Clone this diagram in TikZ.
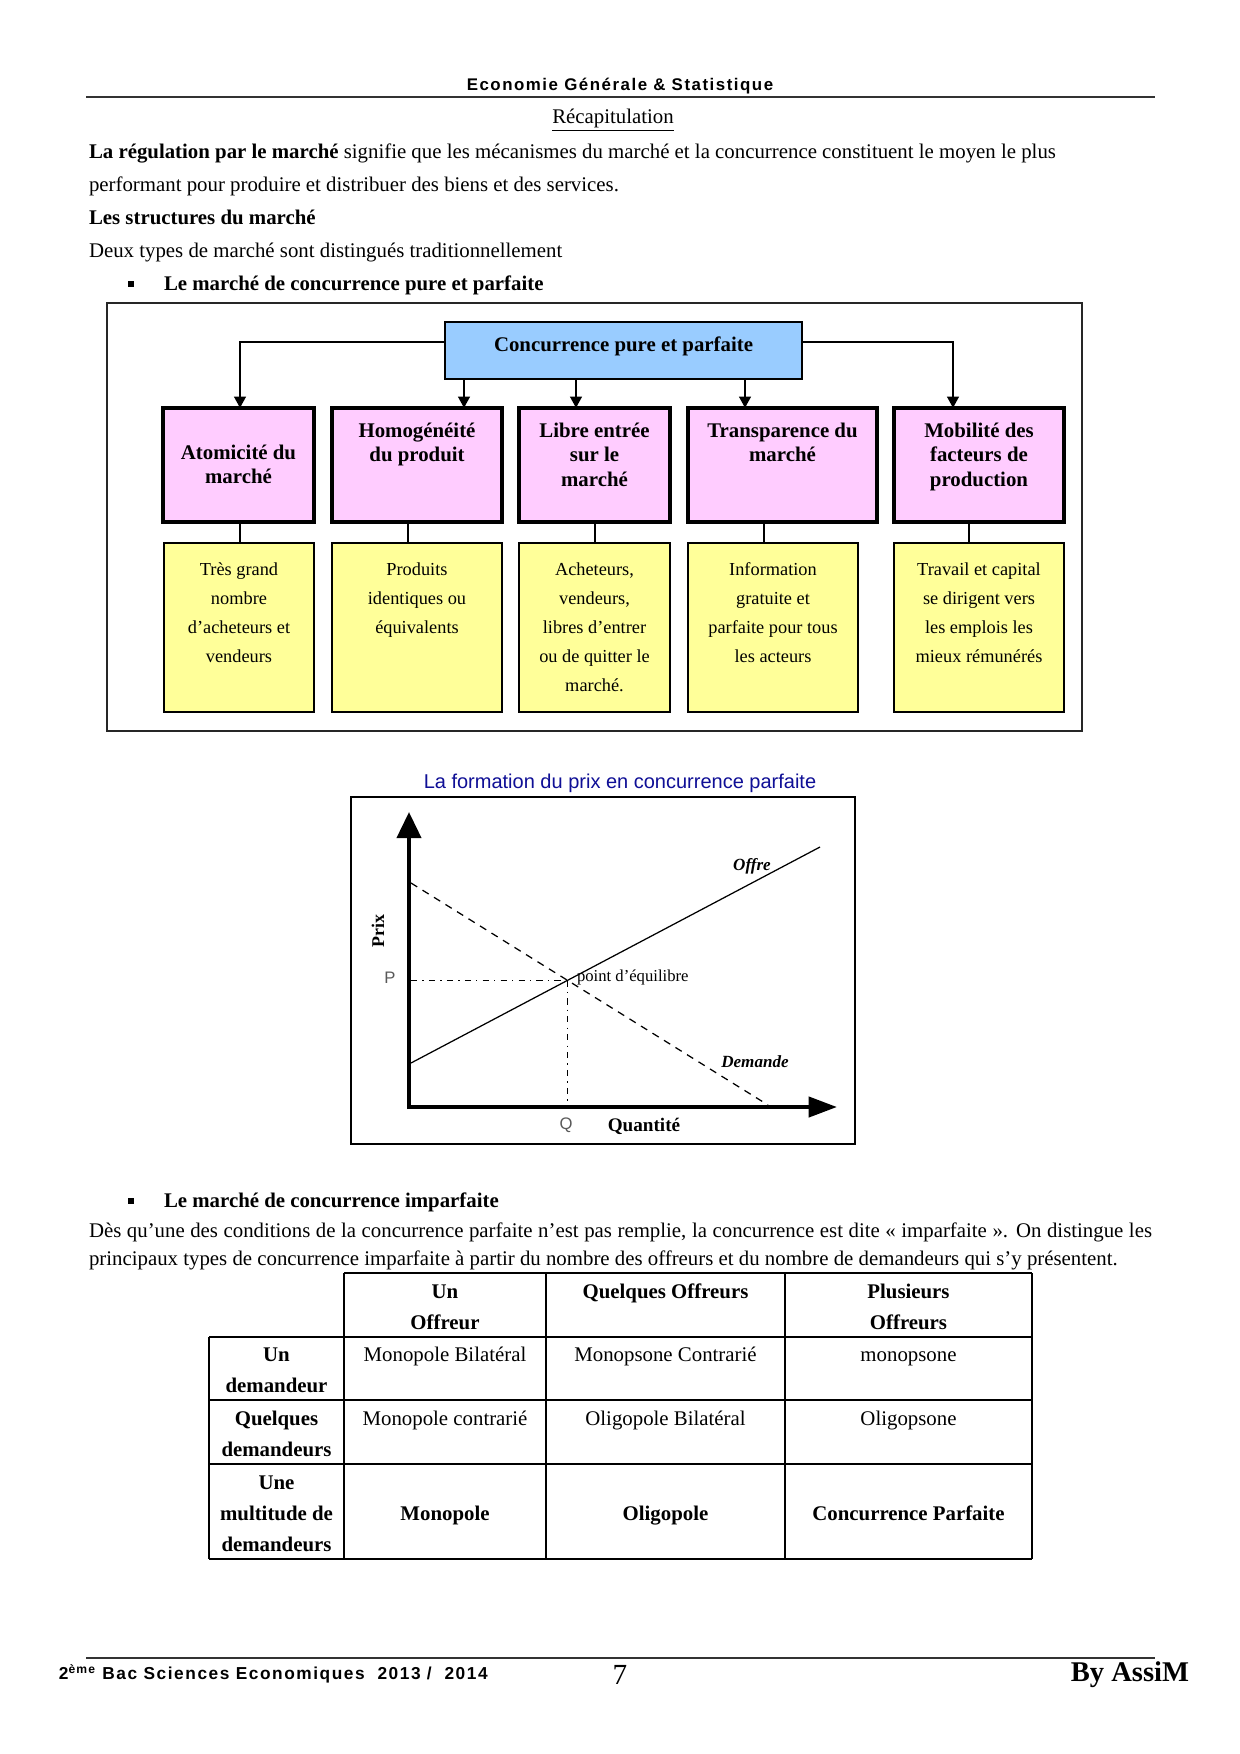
\documentclass[tikz,border=0pt]{standalone}
\usepackage{fontspec}
\setmainfont{Liberation Serif}
\newfontfamily\hdrfont[LetterSpace=9]{Liberation Sans}
\newfontfamily\sansfont{Liberation Sans}
\usetikzlibrary{arrows.meta}
\definecolor{pinkf}{HTML}{FFCCFF}
\definecolor{bluef}{HTML}{99CCFF}
\definecolor{yellf}{HTML}{FFFF99}
\definecolor{ctitleblue}{RGB}{15,15,150}
\newcommand{\ml}[1]{\begin{tabular}[t]{@{}c@{}}#1\end{tabular}}
\begin{document}
\begin{tikzpicture}[x=0.48pt,y=-0.48pt,
  every node/.style={inner sep=0pt, outer sep=0pt},
  body/.style={anchor=base west, font=\fontsize{10}{15}\selectfont},
  pinkbox/.style={draw, line width=1.6pt, fill=pinkf},
  yellbox/.style={draw, line width=0.8pt, fill=yellf, minimum height=81.12pt},
  bluebox/.style={draw, line width=0.8pt, fill=bluef},
  ptext/.style={anchor=base, font=\bfseries\fontsize{10}{11.8}\selectfont},
  ytext/.style={anchor=base, font=\fontsize{8.8}{14}\selectfont},
  arr/.style={line width=1.4pt, -{Triangle[length=5.5pt,width=5.5pt]}},
  conn/.style={line width=1.4pt},
  cell/.style={anchor=base, font=\fontsize{10}{15.1}\selectfont},
  hcell/.style={anchor=base, font=\bfseries\fontsize{10}{15.1}\selectfont},
  grid/.style={line width=0.9pt},
  clab/.style={font=\sansfont\fontsize{8}{10}\selectfont, text=black!65},
]
\fill[white] (0,0) rectangle (1240,1754);
\useasboundingbox (0,0) rectangle (1240,1754);

% ---------- header ----------
\node[anchor=base, font=\hdrfont\bfseries\fontsize{8.1}{10}\selectfont] (hdr) at (620,90) {Economie Générale \& Statistique};
\draw[line width=0.9pt, black!80] (86,97) -- (1155,97);
\node[body, anchor=base] (recap) at (613,123) {\underline{Récapitulation}};
\node[body] (l1) at (89,158) {\textbf{La régulation par le marché} signifie que les mécanismes du marché et la concurrence constituent le moyen le plus};
\node[body] (l2) at (89,191) {performant pour produire et distribuer des biens et des services.};
\node[body] (l3) at (89,224) {\textbf{Les structures du marché}};
\node[body] (l4) at (89,257) {Deux types de marché sont distingués traditionnellement};
\fill (128,281) rectangle (134,287);
\node[body] (b1) at (164,290) {\textbf{Le marché de concurrence pure et parfaite}};

% ---------- diagram ----------
\draw[line width=1pt, black!85] (107,303) rectangle (1082,731);
\node[bluebox, minimum width=171.36pt, minimum height=27.36pt] (top) at (623.5,350.5) {};
\node[anchor=base, font=\bfseries\fontsize{10}{12}\selectfont] (topt) at (623.5,351) {Concurrence pure et parfaite};

\node[pinkbox, minimum width=72.48pt, minimum height=54.72pt] (p1) at (238.5,465) {};
\node[pinkbox, minimum width=81.6pt, minimum height=54.72pt] (p2) at (417,465) {};
\node[pinkbox, minimum width=72.48pt, minimum height=54.72pt] (p3) at (594.5,465) {};
\node[pinkbox, minimum width=90.72pt, minimum height=54.72pt] (p4) at (782.5,465) {};
\node[pinkbox, minimum width=81.6pt, minimum height=54.72pt] (p5) at (979,465) {};

\node[yellbox, minimum width=72pt] (y1) at (239,627.5) {};
\node[yellbox, minimum width=81.6pt] (y2) at (417,627.5) {};
\node[yellbox, minimum width=72.48pt] (y3) at (594.5,627.5) {};
\node[yellbox, minimum width=81.6pt] (y4) at (773,627.5) {};
\node[yellbox, minimum width=81.6pt] (y5) at (979,627.5) {};

\node[ptext] (p1t) at (238.5,459) {\ml{Atomicité du\\marché}};
\node[ptext] (p2t) at (417,437) {\ml{Homogénéité\\du produit}};
\node[ptext] (p3t) at (594.5,437) {\ml{Libre entrée\\sur le\\marché}};
\node[ptext] (p4t) at (782.5,437) {\ml{Transparence du\\marché}};
\node[ptext] (p5t) at (979,437) {\ml{Mobilité des\\facteurs de\\production}};

\node[ytext] (y1t) at (239,575) {\ml{Très grand\\nombre\\d’acheteurs et\\vendeurs}};
\node[ytext] (y2t) at (417,575) {\ml{Produits\\identiques ou\\équivalents}};
\node[ytext] (y3t) at (594.5,575) {\ml{Acheteurs,\\vendeurs,\\libres d’entrer\\ou de quitter le\\marché.}};
\node[ytext] (y4t) at (773,575) {\ml{Information\\gratuite et\\parfaite pour tous\\les acteurs}};
\node[ytext] (y5t) at (979,575) {\ml{Travail et capital\\se dirigent vers\\les emplois les\\mieux rémunérés}};

\draw[arr] (top.west |- 0,342) -| (p1.north -| 240,0);
\draw[arr] (top.east |- 0,342) -| (p5.north -| 953,0);
\draw[arr] (top.south -| 464,0) -- (p2.north -| 464,0);
\draw[arr] (top.south -| 576,0) -- (p3.north -| 576,0);
\draw[arr] (top.south -| 745,0) -- (p4.north -| 745,0);

\draw[conn] (p1.south -| 240,0) -- (y1.north -| 240,0);
\draw[conn] (p2.south -| 408,0) -- (y2.north -| 408,0);
\draw[conn] (p3.south -| 595,0) -- (y3.north -| 595,0);
\draw[conn] (p4.south -| 764,0) -- (y4.north -| 764,0);
\draw[conn] (p5.south -| 969,0) -- (y5.north -| 969,0);

% ---------- chart ----------
\node[anchor=base, font=\sansfont\fontsize{9.6}{12}\selectfont, text=ctitleblue] (ctitle) at (620,788) {La formation du prix en concurrence parfaite};
\draw[line width=0.8pt] (351,797) rectangle (855,1144);
\draw[line width=0.6pt] (411,1063) -- (820,847);
\draw[line width=0.6pt, dash pattern=on 3.5pt off 3pt] (411,883) -- (768,1105);
\coordinate (E) at (intersection of 411,1063--820,847 and 411,883--768,1105);
\draw[line width=0.6pt, dash pattern=on 3pt off 2.5pt on 0.6pt off 2.5pt] (E -| 411,0) -- (E);
\draw[line width=0.6pt, dash pattern=on 3pt off 2.5pt on 0.6pt off 2.5pt] (E) -- (E |- 0,1107);
\draw[line width=2pt, -{Triangle[length=12.5pt,width=11.5pt]}] (409,1109) -- (409,812);
\draw[line width=2pt, -{Triangle[length=13.6pt,width=9.6pt]}] (408,1107) -- (837,1107);
\node[clab] (Plab) at (390,978) {P};
\node[clab] (Qlab) at (566,1125) {Q};
\node[rotate=90, font=\bfseries\fontsize{8.6}{10}\selectfont] (prix) at (378,931) {Prix};
\node[font=\bfseries\fontsize{9.2}{11}\selectfont] (quant) at (644,1126) {Quantité};
\node[font=\bfseries\itshape\fontsize{8.2}{10}\selectfont] (offre) at (752,866) {Offre};
\node[font=\bfseries\itshape\fontsize{8.2}{10}\selectfont] (dem) at (755,1062) {Demande};
\node[anchor=west, font=\fontsize{8}{10}\selectfont] (eq) at (577,977) {point d'équilibre};

% ---------- imperfect competition ----------
\fill (128,1198) rectangle (134,1204);
\node[body] (b2) at (164,1207) {\textbf{Le marché de concurrence imparfaite}};
\node[anchor=base west] (para) at (89,1237) {\parbox[t]{510.24pt}{\fontsize{10}{13.9}\selectfont Dès qu’une des conditions de la concurrence parfaite n’est pas remplie, la concurrence est dite «~imparfaite~». On distingue les\linebreak principaux types de concurrence imparfaite à partir du nombre des offreurs et du nombre de demandeurs qui s’y présentent.}};

\draw[grid] (344,1273) -- (1032,1273);
\draw[grid] (209,1337) -- (1032,1337);
\draw[grid] (209,1400) -- (1032,1400);
\draw[grid] (209,1464) -- (1032,1464);
\draw[grid] (209,1559) -- (1032,1559);
\draw[grid] (209,1337) -- (209,1559);
\draw[grid] (344,1273) -- (344,1559);
\draw[grid] (546,1273) -- (546,1559);
\draw[grid] (785,1273) -- (785,1559);
\draw[grid] (1032,1273) -- (1032,1559);

\node[hcell] (h2) at (445,1298) {\ml{Un\\Offreur}};
\node[hcell] (h3) at (665.5,1298) {Quelques Offreurs};
\node[hcell] (h4) at (908.5,1298) {\ml{Plusieurs\\Offreurs}};
\node[hcell] (r1) at (276.5,1361) {\ml{Un\\demandeur}};
\node[cell] (c11) at (445,1361) {Monopole Bilatéral};
\node[cell] (c12) at (665.5,1361) {Monopsone Contrarié};
\node[cell] (c13) at (908.5,1361) {monopsone};
\node[hcell] (r2) at (276.5,1425) {\ml{Quelques\\demandeurs}};
\node[cell] (c21) at (445,1425) {Monopole contrarié};
\node[cell] (c22) at (665.5,1425) {Oligopole Bilatéral};
\node[cell] (c23) at (908.5,1425) {Oligopsone};
\node[hcell] (r3) at (276.5,1489) {\ml{Une\\multitude de\\demandeurs}};
\node[hcell] (c31) at (445,1520) {Monopole};
\node[hcell] (c32) at (665.5,1520) {Oligopole};
\node[hcell] (c33) at (908.5,1520) {Concurrence Parfaite};

% ---------- footer ----------
\draw[line width=0.9pt, black!80] (86,1658) -- (1155,1658);
\node[anchor=base west, font=\hdrfont\bfseries\fontsize{8.3}{10}\selectfont] (foot) at (59,1679) {2\textsuperscript{ème} Bac Sciences Economiques\ \ 2013 /\ \ 2014};
\node[anchor=base, font=\fontsize{14}{16}\selectfont] (pnum) at (620,1684) {7};
\node[anchor=base east, font=\bfseries\fontsize{13.7}{16}\selectfont] (by) at (1189,1681) {By AssiM};
\end{tikzpicture}
\end{document}
